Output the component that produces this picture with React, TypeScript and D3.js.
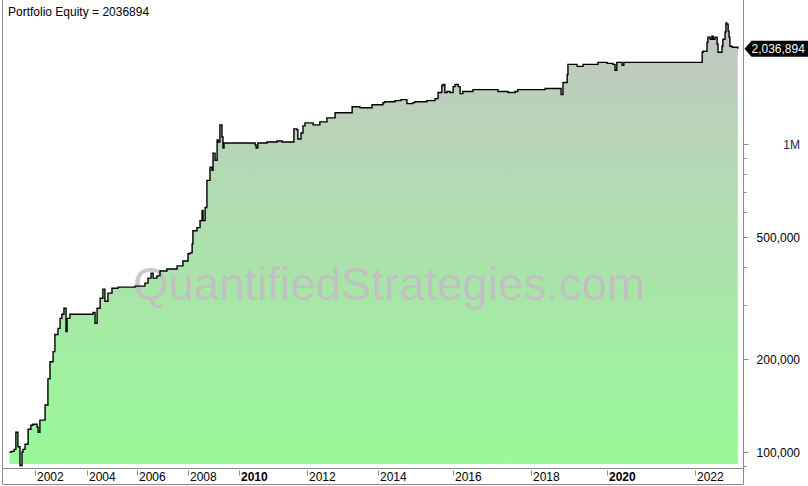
import React from "react";
import * as d3 from "d3";

const title = "Portfolio Equity = 2036894";
const lastValueLabel = "2,036,894";
const watermark = "QuantifiedStrategies.com";

// decimal years
const dates = [
  2001.0, 2001.09, 2001.18, 2001.25, 2001.33, 2001.41, 2001.49, 2001.53, 2001.61, 2001.73,
  2001.84, 2001.92, 2002.08, 2002.12, 2002.19, 2002.39, 2002.5, 2002.58, 2002.7, 2002.77,
  2002.89, 2002.97, 2003.04, 2003.12, 2003.2, 2003.24, 2003.35, 2003.74, 2004.25, 2004.33,
  2004.41, 2004.53, 2004.64, 2004.72, 2004.84, 2005.0, 2005.24, 2005.59, 2005.91, 2006.18,
  2006.3, 2006.42, 2006.54, 2006.62, 2006.77, 2006.89, 2007.16, 2007.56, 2007.79, 2007.99,
  2008.07, 2008.15, 2008.18, 2008.34, 2008.46, 2008.54, 2008.58, 2008.66, 2008.73, 2008.77,
  2008.85, 2008.93, 2008.97, 2009.05, 2009.13, 2009.17, 2009.24, 2009.32, 2009.36, 2009.4,
  2009.64, 2010.08, 2010.47, 2010.5, 2010.55, 2010.61, 2010.82, 2011.12, 2011.27, 2011.56,
  2011.62, 2011.71, 2011.74, 2011.83, 2011.89, 2011.95, 2012.18, 2012.37, 2012.57, 2012.8,
  2012.94, 2013.14, 2013.28, 2013.5, 2013.84, 2014.14, 2014.19, 2014.46, 2014.62, 2014.78,
  2014.94, 2014.99, 2015.31, 2015.53, 2015.61, 2015.71, 2015.74, 2015.79, 2015.85, 2015.93,
  2016.01, 2016.06, 2016.14, 2016.19, 2016.26, 2016.52, 2017.14, 2017.16, 2017.42, 2017.6,
  2017.67, 2018.38, 2018.77, 2018.8, 2018.85, 2018.96, 2018.98, 2019.03, 2019.22, 2019.38,
  2019.77, 2020.01, 2020.14, 2020.19, 2020.23, 2020.35, 2020.39, 2021.21, 2022.05, 2022.17,
  2022.19, 2022.28, 2022.3, 2022.35, 2022.39, 2022.42, 2022.46, 2022.51, 2022.53, 2022.57,
  2022.62, 2022.64, 2022.69, 2022.71, 2022.73, 2022.76, 2022.78, 2022.8, 2022.85, 2022.98,
];

const equity = [
  100000, 100500, 102000, 115900, 104000, 90400, 100000, 102000, 106000, 118600,
  122200, 123100, 120400, 115900, 126900, 142100, 172800, 196400, 211800, 240600,
  251900, 271600, 279900, 292800, 246200, 271600, 279900, 279900, 284100, 261500,
  292800, 315800, 338000, 308800, 328000, 340000, 343000, 343000, 345600, 345600,
  353500, 367000, 381000, 367000, 373000, 387000, 393000, 402000, 417000, 440000,
  443000, 474000, 523000, 535000, 564000, 608000, 564000, 622000, 762000, 762000,
  841000, 822000, 934000, 886000, 1031000, 1015000, 1154000, 1054000, 970000, 1008000,
  1008000, 1008000, 992500, 970000, 1008000, 1008000, 1015000, 1023000, 1015000, 1015000,
  1120000, 1111000, 1038000, 1086000, 1145000, 1171000, 1154000, 1180000, 1216000, 1263000,
  1263000, 1263000, 1321000, 1311000, 1341000, 1362000, 1372000, 1383000, 1393000, 1352000,
  1362000, 1372000, 1383000, 1404000, 1469000, 1548000, 1560000, 1469000, 1480000, 1469000,
  1536000, 1560000, 1536000, 1457000, 1480000, 1502000, 1502000, 1480000, 1469000, 1480000,
  1502000, 1514000, 1514000, 1446000, 1584000, 1682000, 1814000, 1814000, 1786000, 1814000,
  1841000, 1827000, 1814000, 1734000, 1841000, 1800000, 1841000, 1841000, 1841000, 1985000,
  2000000, 2140000, 2223000, 2189000, 2239000, 2189000, 2223000, 2109000, 1985000, 1985000,
  2077000, 2189000, 2309000, 2470000, 2451000, 2326000, 2223000, 2077000, 2062000, 2036894,
];

const yearTicks = [2002, 2004, 2006, 2008, 2010, 2012, 2014, 2016, 2018, 2020, 2022];
const boldYears = [2010, 2020];
const yMajorTicks = [100000, 200000, 500000, 1000000];
const yMajorLabels = ["100,000", "200,000", "500,000", "1M"];
const yMinorTicks = [90000, 300000, 400000, 600000, 700000, 800000, 900000];

// bar-indexed time axis: years are not evenly spaced
const axisYears = [2001, 2002, 2004, 2006, 2008, 2010, 2012, 2014, 2016, 2018, 2020, 2022, 2023];
const axisPx = [9.5, 35, 86.7, 137.3, 188.3, 239.3, 306.7, 377.7, 452.7, 530.7, 606.7, 694.7, 738.7];

export default function App() {
  const W = 808;
  const H = 486;
  const axisX = 743.5;
  const plotBottom = 468.5;
  const fillBottom = 464;

  const x = d3.scaleLinear().domain(axisYears).range(axisPx);
  const y = d3.scaleLog().domain([100000, 1000000]).range([452, 144]);

  const data: [number, number][] = dates.map((d, i) => [d, equity[i]]);

  const line = d3
    .line<[number, number]>()
    .x((d) => x(d[0]))
    .y((d) => y(d[1]))
    .curve(d3.curveStepAfter);
  const area = d3
    .area<[number, number]>()
    .x((d) => x(d[0]))
    .y0(fillBottom)
    .y1((d) => y(d[1]))
    .curve(d3.curveStepAfter);

  const last = data[data.length - 1];
  const ly = y(last[1]);
  const font = "'Liberation Sans', Arial, sans-serif";

  return (
    <svg
      width={W}
      height={H}
      style={{ position: "fixed", left: 0, top: 0, background: "#fff" }}
      fontFamily={font}
    >
      <defs>
        <linearGradient id="eqfill" gradientUnits="userSpaceOnUse" x1="0" y1="0" x2="0" y2={fillBottom}>
          <stop offset="0" stopColor="#c4c4c4" />
          <stop offset="1" stopColor="#98fa98" />
        </linearGradient>
        <clipPath id="plotclip">
          <rect x={3} y={0} width={axisX - 3} height={plotBottom} />
        </clipPath>
      </defs>
      <rect x={0} y={0} width={W} height={H} fill="#fff" />
      <g clipPath="url(#plotclip)">
        <path d={area(data) || ""} fill="url(#eqfill)" />
        <text
          x={133}
          y={300}
          fontSize={46}
          textLength={512}
          lengthAdjust="spacingAndGlyphs"
          fill="#c4bcc4"
          fillOpacity={0.85}
        >
          {watermark}
        </text>
        <path d={line(data) || ""} fill="none" stroke="#000" strokeWidth={1.4} />
      </g>

      {/* frame */}
      <g stroke="#8a8a8a" strokeWidth={1} fill="none">
        <line x1={2.5} y1={0} x2={2.5} y2={484.5} />
        <line x1={2.5} y1={plotBottom} x2={axisX} y2={plotBottom} />
        <line x1={2.5} y1={484.5} x2={axisX} y2={484.5} />
        <line x1={axisX} y1={0} x2={axisX} y2={484.5} />
      </g>

      {/* title */}
      <text x={8} y={16} fontSize={12} fill="#000">
        {title}
      </text>

      {/* x axis */}
      {yearTicks.map((yr) => {
        const px = Math.round(x(yr)) + 0.5;
        return (
          <g key={yr}>
            <line x1={px} y1={plotBottom + 2} x2={px} y2={plotBottom + 7} stroke="#8a8a8a" />
            <text
              x={px + 1.5}
              y={481}
              fontSize={12}
              fill="#000"
              fontWeight={boldYears.includes(yr) ? "bold" : "normal"}
            >
              {yr}
            </text>
          </g>
        );
      })}

      {/* y axis */}
      {yMinorTicks.map((v) => {
        const py = Math.round(y(v)) + 0.5;
        return <line key={v} x1={axisX} y1={py} x2={axisX + 3} y2={py} stroke="#8a8a8a" />;
      })}
      {yMajorTicks.map((v, i) => {
        const py = Math.round(y(v)) + 0.5;
        return (
          <g key={v}>
            <line x1={axisX} y1={py} x2={axisX + 5} y2={py} stroke="#8a8a8a" />
            <text
              x={800}
              y={py + 4.5}
              fontSize={12}
              textAnchor="end"
              fill={v === 1000000 ? "#2a1a60" : "#000"}
            >
              {yMajorLabels[i]}
            </text>
          </g>
        );
      })}

      {/* last value marker */}
      <path
        d={`M${axisX + 1},${ly} L${axisX + 8},${ly - 8} L${W},${ly - 8} L${W},${ly + 8} L${axisX + 8},${ly + 8} Z`}
        fill="#000"
      />
      <text x={axisX + 8} y={ly + 4.5} fontSize={12} fill="#fff">
        {lastValueLabel}
      </text>
    </svg>
  );
}
